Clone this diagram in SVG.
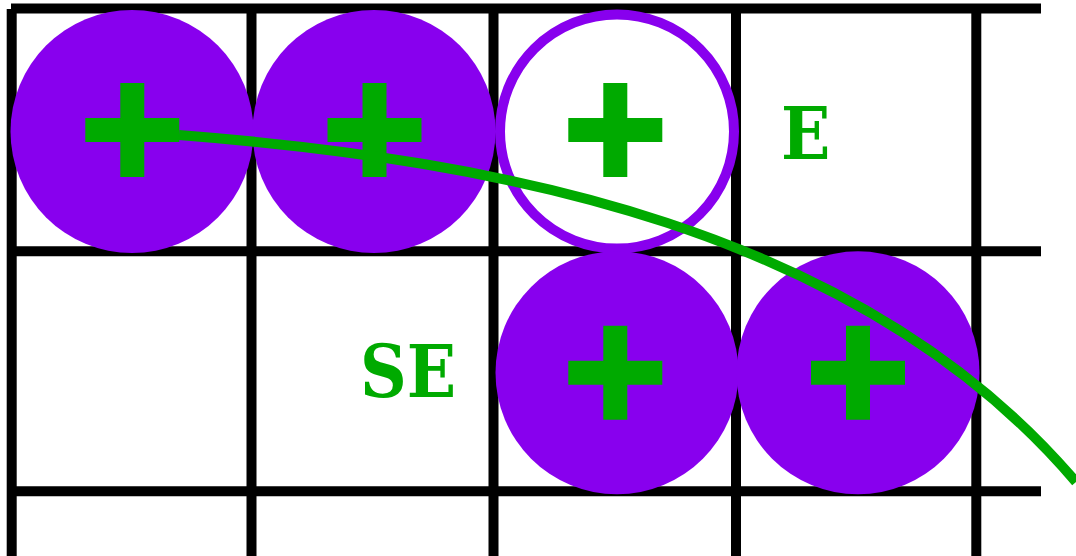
<svg xmlns="http://www.w3.org/2000/svg" width="1076" height="556" viewBox="0 0 1076 556">
<style>
.grid{stroke:#000;stroke-width:10;fill:none;stroke-linecap:butt}
.full{fill:#8800ee}
.open{fill:#fff;stroke:#8800ee;stroke-width:10}
.plus{fill:#00aa00}
.lbl{fill:#00aa00;font-family:"DejaVu Serif Condensed","DejaVu Serif",serif;font-weight:bold;font-size:72px}
.curve{fill:none;stroke:#00aa00;stroke-width:10}
</style>
<defs>
<path id="plus" d="M-47,-12H-12V-47H12V-12H47V12H12V47H-12V12H-47Z"/>
</defs>
<g id="grid">
<line class="grid" x1="11" y1="8.5" x2="1041" y2="8.5"/>
<line class="grid" x1="11" y1="251.3" x2="1041" y2="251.3"/>
<line class="grid" x1="11" y1="491.3" x2="1041" y2="491.3"/>
<line class="grid" x1="11.7" y1="9" x2="11.7" y2="556"/>
<line class="grid" x1="251.5" y1="9" x2="251.5" y2="556"/>
<line class="grid" x1="493.5" y1="9" x2="493.5" y2="556"/>
<line class="grid" x1="736" y1="9" x2="736" y2="556"/>
<line class="grid" x1="976.3" y1="9" x2="976.3" y2="556"/>
</g>
<g id="n1"><circle class="full" cx="132" cy="131.5" r="121.5"/><use href="#plus" class="plus" x="132.3" y="130"/></g>
<g id="n2"><circle class="full" cx="374" cy="131.5" r="121.5"/><use href="#plus" class="plus" x="374.5" y="130"/></g>
<g id="n3"><circle class="open" cx="617" cy="131.5" r="117"/><use href="#plus" class="plus" x="615.3" y="130"/></g>
<g id="n4"><circle class="full" cx="617" cy="372.8" r="121.5"/><use href="#plus" class="plus" x="615.3" y="372.7"/></g>
<g id="n5"><circle class="full" cx="858" cy="372.8" r="121.5"/><use href="#plus" class="plus" x="858" y="372.7"/></g>
<g id="labels">
<text class="lbl" x="781" y="159">E</text>
<text class="lbl" x="360" y="397">SE</text>
</g>
<g id="connectors">
<path class="curve" d="M179,135 C499,160 860,228 1076,482"/>
</g>
</svg>
